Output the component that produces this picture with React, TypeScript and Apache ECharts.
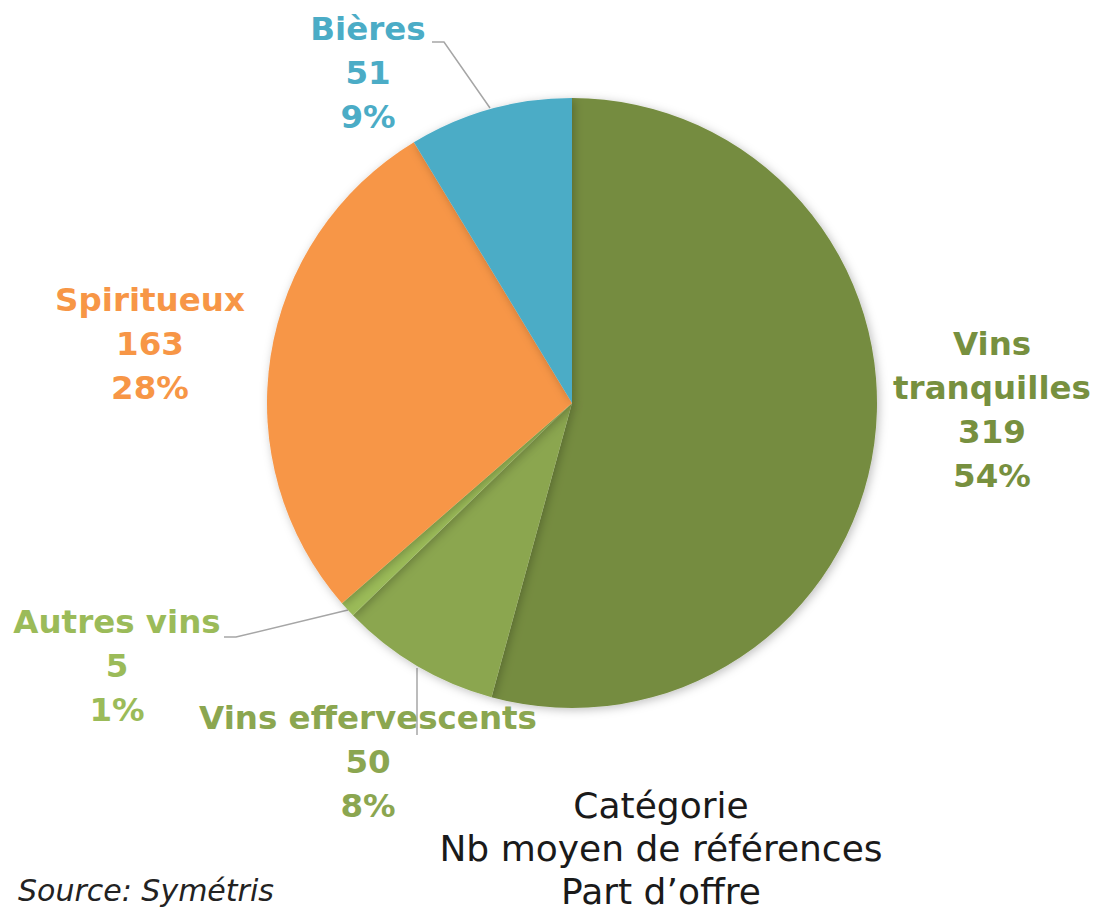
import React, { useEffect, useRef } from "react";
import * as echarts from "echarts";

const categories = ["Vins tranquilles", "Vins effervescents", "Autres vins", "Spiritueux", "Bières"];
const displayNames = ["Vins\ntranquilles", "Vins effervescents", "Autres vins", "Spiritueux", "Bières"];
const values = [319, 50, 5, 163, 51];
const sliceColors = ["#758C40", "#8BA650", "#9BBB59", "#F79646", "#4BACC6"];
const labelColors = ["#77903F", "#8BA650", "#9BBB59", "#F79646", "#4BACC6"];
const showLeader = [false, true, true, false, true];
const titleLines = ["Catégorie", "Nb moyen de références", "Part d’offre"];
const sourceText = "Source: Symétris";

const FONT = "DejaVu Sans";

// label anchor placements (center of text block) and leader line points, per category index
const labelPlacement: { x: number; y: number; line?: number[][] }[] = [
  { x: 992, y: 410 },
  { x: 368, y: 762, line: [[417, 668], [417, 700], [417, 735]] },
  { x: 117, y: 666, line: [[348, 610], [236, 637], [224, 637]] },
  { x: 150, y: 344 },
  { x: 368, y: 73, line: [[490, 108], [444, 42], [432, 42]] },
];

export default function App() {
  const ref = useRef<HTMLDivElement>(null);
  useEffect(() => {
    if (!ref.current) return;
    const chart = echarts.init(ref.current, null, { renderer: "svg" });
    chart.setOption({
      animation: false,
      backgroundColor: "#ffffff",
      series: [
        {
          type: "pie",
          center: [572, 403],
          radius: 305,
          startAngle: 90,
          clockwise: true,
          percentPrecision: 0,
          avoidLabelOverlap: false,
          itemStyle: {
            shadowBlur: 10,
            shadowColor: "rgba(0,0,0,0.25)",
            shadowOffsetX: 2,
            shadowOffsetY: 2,
          },
          label: {
            show: true,
            position: "outside",
            fontFamily: FONT,
            fontWeight: "bold",
            fontSize: 32.5,
            lineHeight: 44,
            align: "center",
            formatter: (p: any) => `${displayNames[p.dataIndex]}\n${p.value}\n${p.percent}%`,
          },
          labelLine: {
            show: true,
            lineStyle: { color: "#A6A6A6", width: 1.5 },
            smooth: false,
          },
          labelLayout: (params: any) => {
            const pl = labelPlacement[params.dataIndex];
            const r: any = { x: pl.x, y: pl.y, align: "center", verticalAlign: "middle" };
            if (pl.line) r.labelLinePoints = pl.line;
            return r;
          },
          data: categories.map((name, i) => ({
            name,
            value: values[i],
            itemStyle: { color: sliceColors[i] },
            label: { color: labelColors[i] },
            labelLine: { show: showLeader[i] },
          })),
        },
      ],
      graphic: [
        ...titleLines.map((t, i) => ({
          type: "text",
          x: 661,
          y: 805 + i * 43,
          style: {
            text: t,
            fontFamily: FONT,
            fontSize: 36,
            fill: "#1A1A1A",
            textAlign: "center",
            textVerticalAlign: "middle",
          },
        })),
        {
          type: "text",
          x: 18,
          y: 890,
          style: {
            text: sourceText,
            fontFamily: FONT,
            fontStyle: "italic",
            fontSize: 30,
            fill: "#222222",
            textAlign: "left",
            textVerticalAlign: "middle",
          },
        },
      ],
    });
    return () => chart.dispose();
  }, []);
  return (
    <div
      ref={ref}
      style={{ position: "absolute", left: 0, top: 0, width: 1095, height: 910 }}
    />
  );
}
